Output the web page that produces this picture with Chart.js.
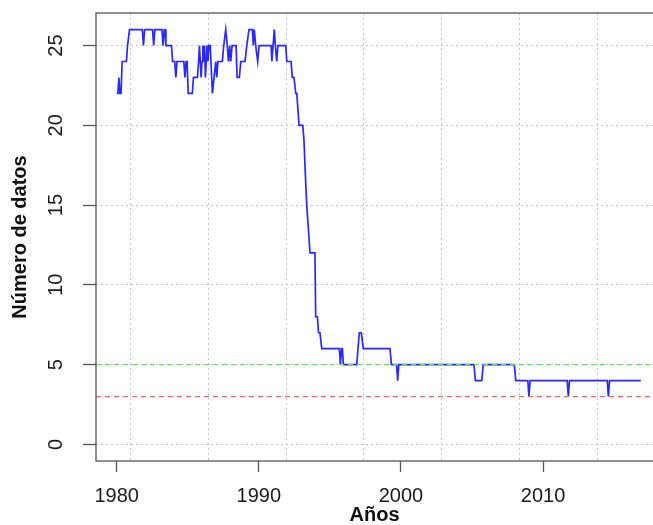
<!DOCTYPE html>
<html>
<head>
<meta charset="utf-8">
<script src="https://cdn.jsdelivr.net/npm/chart.js@4.4.1/dist/chart.umd.min.js"></script>
<style>
  html, body { margin: 0; padding: 0; background: #fff; overflow: hidden; }
  canvas { display: block; }
</style>
</head>
<body>
<canvas id="myChart" width="653" height="525"></canvas>
<script>
// monthly counts, stored at the months where the value changes
const years = [
    1980.00, 1980.08, 1980.15, 1980.22, 1980.30, 1980.38, 1980.68, 1980.76, 1980.90,
    1981.80, 1981.88, 1981.96, 1982.52, 1982.60, 1982.68, 1983.18, 1983.26, 1983.34,
    1983.40, 1983.46, 1983.85, 1983.93, 1984.08, 1984.16, 1984.24, 1984.72, 1984.80,
    1984.88, 1984.95, 1985.03, 1985.32, 1985.40, 1985.68, 1985.76, 1985.82, 1985.88,
    1985.94, 1986.00, 1986.06, 1986.12, 1986.18, 1986.24, 1986.30, 1986.36, 1986.42,
    1986.48, 1986.58, 1986.73, 1986.85, 1986.97, 1987.04, 1987.12, 1987.43, 1987.53,
    1987.67, 1987.78, 1987.86, 1987.95, 1988.02, 1988.12, 1988.40, 1988.47, 1988.63,
    1988.73, 1989.03, 1989.15, 1989.31, 1989.55, 1989.61, 1989.68, 1989.78, 1989.92,
    1990.02, 1990.86, 1990.92, 1991.00, 1991.09, 1991.16, 1991.26, 1991.34, 1991.89,
    1991.97, 1992.27, 1992.35, 1992.47, 1992.60, 1992.67, 1992.83, 1993.09, 1993.18,
    1993.27, 1993.37, 1993.45, 1993.60, 1993.95, 1994.00, 1994.12, 1994.20, 1994.30,
    1994.43, 1995.67, 1995.74, 1995.82, 1995.88, 1995.95, 1996.89, 1997.07, 1997.21,
    1997.35, 1999.23, 1999.33, 1999.70, 1999.77, 1999.85, 2005.14, 2005.24, 2005.69,
    2005.79, 2007.98, 2008.08, 2008.93, 2009.01, 2009.09, 2011.70, 2011.78, 2011.86,
    2014.52, 2014.60, 2014.68, 2016.88
];
const counts = [
    22, 22, 23, 22, 22, 24, 24, 25, 26,
    26, 25, 26, 26, 25, 26, 26, 25, 26,
    26, 25, 25, 24, 24, 23, 24, 24, 23,
    24, 24, 22, 22, 23, 23, 24, 25, 24,
    23, 24, 25, 24, 25, 23, 24, 25, 24,
    25, 25, 22, 23, 24, 23, 24, 24, 25,
    26, 25, 24, 25, 24, 25, 25, 23, 23,
    24, 24, 25, 26, 26, 25, 26, 25, 24,
    25, 25, 24, 25, 26, 25, 24, 25, 25,
    24, 24, 23, 23, 22, 22, 20, 20, 19,
    17, 15, 14, 12, 12, 8, 8, 7, 7,
    6, 6, 5, 6, 6, 5, 5, 7, 7,
    6, 6, 5, 5, 4, 5, 5, 4, 4,
    5, 5, 4, 4, 3, 4, 4, 3, 4,
    4, 3, 4, 4
];

const xTicks = [1980, 1990, 2000, 2010];
const yTicks = [0, 5, 10, 15, 20, 25];
const gridYears = [1980.97, 1986.44, 1991.92, 1997.40, 2002.88, 2008.36, 2013.84];
const refLevels = [5, 3];
const refColors = ["#5fe35f", "#f26464"];

const xMin = 1978.54;
const xMax = 2017.74;
const yMin = -1.04;
const yMax = 27.04;

const fontFamily = "'Liberation Sans', Arial, Helvetica, sans-serif";

const datasets = [
    {
        label: "Número de datos",
        data: years.map((x, i) => ({ x: x, y: counts[i] })),
        borderColor: "#2828ff",
        borderWidth: 1.7,
        pointRadius: 0,
        tension: 0,
        fill: false,
        order: 2,
    },
];
refLevels.forEach((level, i) => {
    datasets.push({
        label: "ref " + level,
        data: [{ x: xMin, y: level }, { x: xMax, y: level }],
        borderColor: refColors[i],
        borderWidth: 1.3,
        borderDash: [5, 4],
        pointRadius: 0,
        fill: false,
        order: 1,
    });
});

// R style box around the plot region
const boxPlugin = {
    id: "box",
    afterDatasetsDraw(chart) {
        const { ctx, chartArea } = chart;
        ctx.save();
        ctx.strokeStyle = "#555";
        ctx.lineWidth = 1.3;
        ctx.strokeRect(chartArea.left, chartArea.top, chartArea.right - chartArea.left + 5, chartArea.bottom - chartArea.top);
        ctx.restore();
    },
};

const ctx = document.getElementById("myChart").getContext("2d");
const myChart = new Chart(ctx, {
    type: "line",
    data: { datasets: datasets },
    plugins: [boxPlugin],
    options: {
        responsive: false,
        animation: false,
        devicePixelRatio: 1,
        layout: { padding: { top: 13, right: 0, left: 0, bottom: 0 } },
        plugins: {
            legend: { display: false },
            tooltip: { enabled: false },
        },
        scales: {
            x: {
                type: "linear",
                position: "bottom",
                min: xMin,
                max: xMax,
                afterBuildTicks: (scale) => {
                    scale.ticks = xTicks.map((v) => ({ value: v }));
                },
                afterFit: (scale) => {
                    scale.height = 64;
                    scale.paddingLeft = 0;
                    scale.paddingRight = 0;
                },
                ticks: {
                    color: "#1a1a1a",
                    font: { family: fontFamily, size: 20 },
                    padding: 12,
                    maxRotation: 0,
                    autoSkip: false,
                    callback: (v) => String(v),
                },
                grid: {
                    drawOnChartArea: false,
                    drawTicks: true,
                    tickLength: 11,
                    tickColor: "#555",
                    tickWidth: 1.3,
                    tickBorderDash: [],
                },
                border: { display: false },
                title: {
                    display: true,
                    text: "Años",
                    color: "#111",
                    font: { family: fontFamily, size: 20, weight: "bold", lineHeight: 1 },
                    padding: { top: 0, bottom: 0 },
                },
            },
            xg: {
                type: "linear",
                position: "bottom",
                min: xMin,
                max: xMax,
                afterBuildTicks: (scale) => {
                    scale.ticks = gridYears.map((v) => ({ value: v }));
                },
                afterFit: (scale) => {
                    scale.height = 0;
                    scale.paddingLeft = 0;
                    scale.paddingRight = 0;
                },
                ticks: { display: false },
                grid: {
                    drawOnChartArea: true,
                    drawTicks: false,
                    color: "#c4c4c4",
                    lineWidth: 1,
                },
                border: { display: false, dash: [2, 3] },
            },
            y: {
                type: "linear",
                position: "left",
                min: yMin,
                max: yMax,
                afterBuildTicks: (scale) => {
                    scale.ticks = yTicks.map((v) => ({ value: v }));
                },
                afterFit: (scale) => {
                    scale.width = 96;
                    scale.paddingTop = 0;
                    scale.paddingBottom = 0;
                },
                ticks: {
                    color: "#1a1a1a",
                    font: { family: fontFamily, size: 20 },
                    padding: 15,
                    minRotation: 90,
                    maxRotation: 90,
                    crossAlign: "center",
                    autoSkip: false,
                    callback: (v) => String(v),
                },
                grid: {
                    drawOnChartArea: true,
                    drawTicks: true,
                    tickLength: 13,
                    color: "#c4c4c4",
                    lineWidth: 1,
                    tickColor: "#555",
                    tickWidth: 1.3,
                    tickBorderDash: [],
                },
                border: { display: false, dash: [2, 3] },
                title: {
                    display: true,
                    text: "Número de datos",
                    color: "#111",
                    font: { family: fontFamily, size: 20, weight: "bold" },
                    padding: { top: 8, bottom: 0 },
                },
            },
        },
    },
});
</script>
</body>
</html>
